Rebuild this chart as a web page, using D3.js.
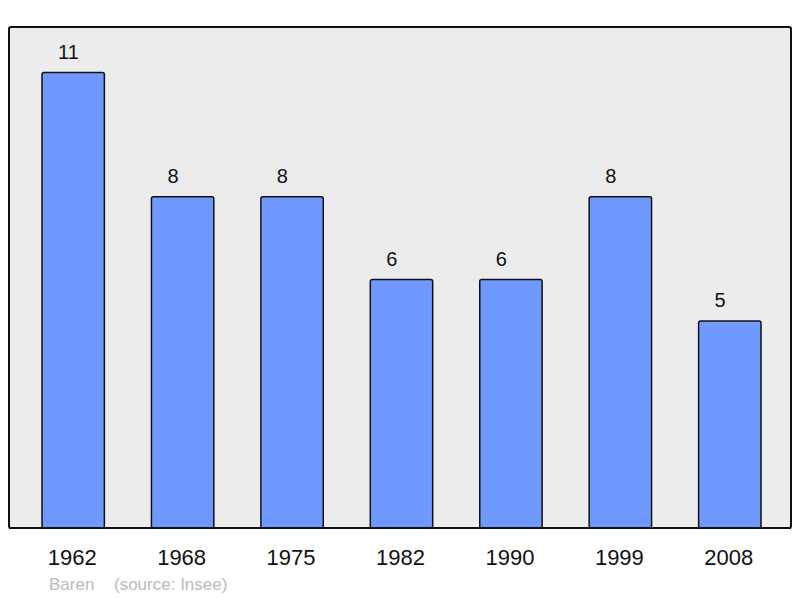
<!DOCTYPE html>
<html>
<head>
<meta charset="utf-8">
<script src="https://cdn.jsdelivr.net/npm/d3@7"></script>
<style>
  body { margin: 0; background: #fff; }
  text { font-family: "Liberation Sans", Arial, sans-serif; }
</style>
</head>
<body>
<svg width="800" height="598"></svg>
<script>
var years = ["1962", "1968", "1975", "1982", "1990", "1999", "2008"];
var population = [11, 8, 8, 6, 6, 8, 5];
var commune = "Baren";
var source = "(source: Insee)";

var svg = d3.select("svg");

var frame = { left: 9, top: 27, right: 791, bottom: 528 };

var x = d3.scaleBand()
  .domain(years)
  .range([42, 761])
  .paddingInner(0.43)
  .paddingOuter(0);

var y = d3.scaleLinear()
  .domain([0, 12.1])
  .range([frame.bottom, frame.top]);

// plot background
svg.append("rect")
  .attr("x", frame.left)
  .attr("y", frame.top)
  .attr("width", frame.right - frame.left)
  .attr("height", frame.bottom - frame.top)
  .attr("rx", 2)
  .attr("fill", "#ececec")
  .attr("stroke", "#111")
  .attr("stroke-width", 2);

var data = years.map(function (d, i) {
  return { year: d, value: population[i] };
});

svg.append("g")
  .selectAll("rect")
  .data(data)
  .enter()
  .append("rect")
  .attr("x", function (d) { return x(d.year); })
  .attr("y", function (d) { return y(d.value); })
  .attr("width", x.bandwidth())
  .attr("height", function (d) { return y(0) - y(d.value); })
  .attr("rx", 2)
  .attr("fill", "#7099ff")
  .attr("stroke", "#111")
  .attr("stroke-width", 1.5);

// redraw frame bottom line over bars
svg.append("line")
  .attr("x1", frame.left)
  .attr("x2", frame.right)
  .attr("y1", frame.bottom)
  .attr("y2", frame.bottom)
  .attr("stroke", "#111")
  .attr("stroke-width", 2);

svg.append("g")
  .selectAll("text")
  .data(data)
  .enter()
  .append("text")
  .attr("x", function (d) { return x(d.year) + 16; })
  .attr("y", function (d) { return y(d.value) - 14; })
  .attr("font-size", 20)
  .attr("fill", "#111")
  .text(function (d) { return d.value; });

svg.append("g")
  .selectAll("text")
  .data(years)
  .enter()
  .append("text")
  .attr("x", function (d) { return x(d) + x.bandwidth() / 2 - 1; })
  .attr("y", 565)
  .attr("text-anchor", "middle")
  .attr("font-size", 22)
  .attr("fill", "#111")
  .text(function (d) { return d; });

svg.append("text")
  .attr("x", 49)
  .attr("y", 590)
  .attr("font-size", 17)
  .attr("fill", "#bbb")
  .text(commune);

svg.append("text")
  .attr("x", 114)
  .attr("y", 590)
  .attr("font-size", 17)
  .attr("fill", "#bbb")
  .text(source);
</script>
</body>
</html>
